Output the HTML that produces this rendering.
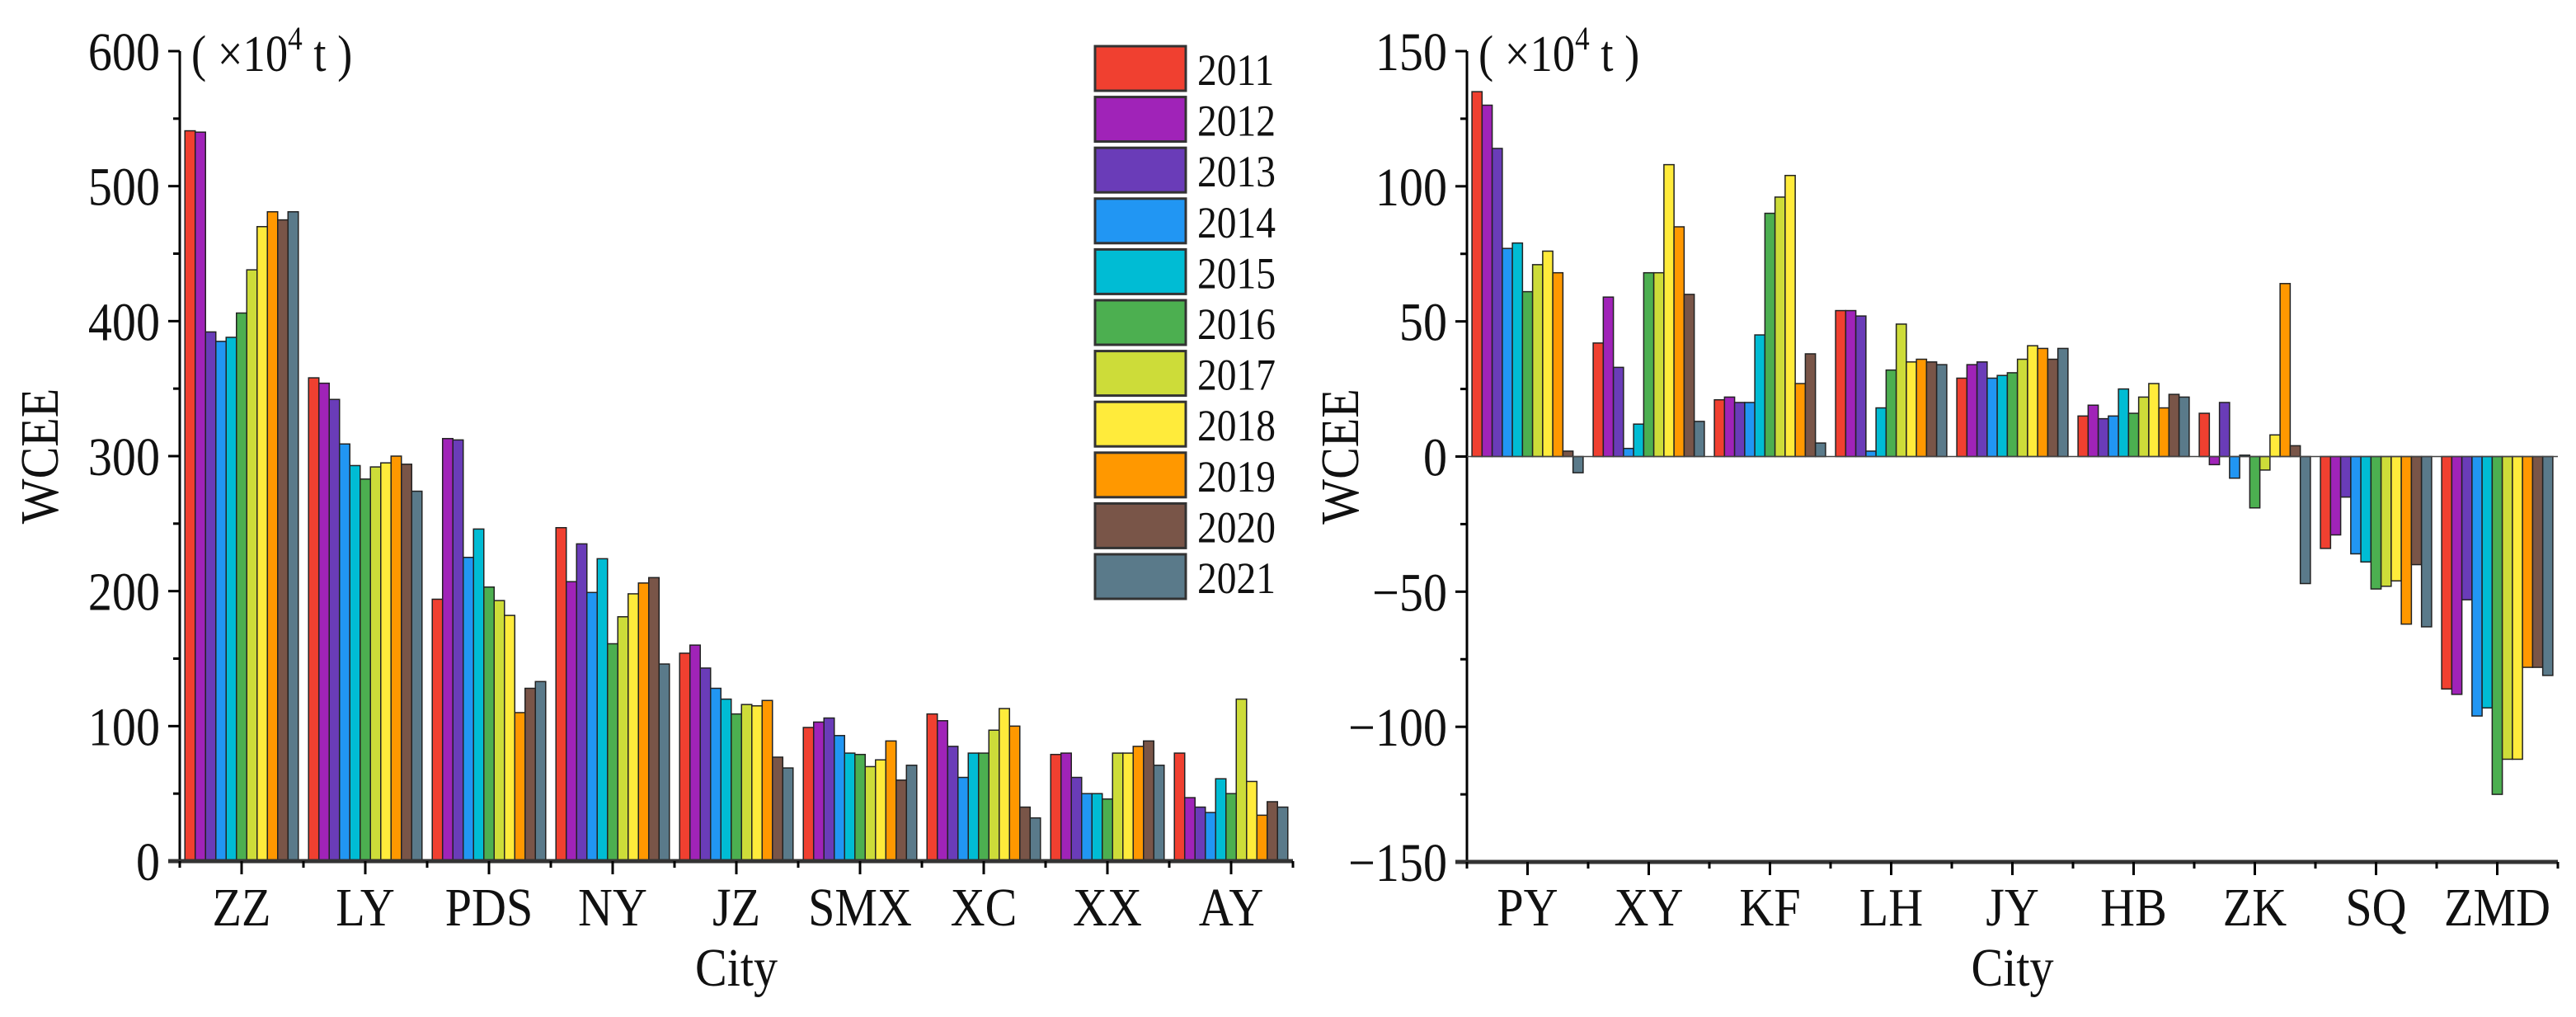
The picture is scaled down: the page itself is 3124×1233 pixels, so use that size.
<!DOCTYPE html>
<html><head><meta charset="utf-8"><style>
html,body{margin:0;padding:0;background:#fff;}
svg{display:block;font-family:"Liberation Serif",serif;}
</style></head><body>
<svg id="chart" width="3124" height="1233" viewBox="0 0 3124 1233" xmlns="http://www.w3.org/2000/svg"></svg>
<script>
const years = ['2011','2012','2013','2014','2015','2016','2017','2018','2019','2020','2021'];
const colors = ['#f04030','#a023b8','#6a3cb8','#2196f3','#00bcd4','#4caf50','#cddc39','#ffeb3b','#ff9800','#795548','#5a7a8a'];
const leftCities = ['ZZ','LY','PDS','NY','JZ','SMX','XC','XX','AY'];
const leftValues = [
 [541,540,392,385,388,406,438,470,481,475,481],
 [358,354,342,309,293,283,292,295,300,294,274],
 [194,313,312,225,246,203,193,182,110,128,133],
 [247,207,235,199,224,161,181,198,206,210,146],
 [154,160,143,128,120,109,116,115,119,77,69],
 [99,103,106,93,80,79,70,75,89,60,71],
 [109,104,85,62,80,80,97,113,100,40,32],
 [79,80,62,50,50,46,80,80,85,89,71],
 [80,47,40,36,61,50,120,59,34,44,40]
];
const leftTicks = [0,100,200,300,400,500,600];
const rightCities = ['PY','XY','KF','LH','JY','HB','ZK','SQ','ZMD'];
const rightValues = [
 [135,130,114,77,79,61,71,76,68,2,-6],
 [42,59,33,3,12,68,68,108,85,60,13],
 [21,22,20,20,45,90,96,104,27,38,5],
 [54,54,52,2,18,32,49,35,36,35,34],
 [29,34,35,29,30,31,36,41,40,36,40],
 [15,19,14,15,25,16,22,27,18,23,22],
 [16,-3,20,-8,0.5,-19,-5,8,64,4,-47],
 [-34,-29,-15,-36,-39,-49,-48,-46,-62,-40,-63],
 [-86,-88,-53,-96,-93,-125,-112,-112,-78,-78,-81]
];
const rightTicks = [-150,-100,-50,0,50,100,150];

const svg = document.getElementById('chart');
const NS = 'http://www.w3.org/2000/svg';
function mk(tag, attrs, parent, text){
  const e = document.createElementNS(NS, tag);
  for (const k in attrs) e.setAttribute(k, attrs[k]);
  if (text !== undefined) e.textContent = text;
  (parent||svg).appendChild(e);
  return e;
}
function txt(x, y, size, anchor, str, parent, extra){
  const a = {x: 0, y: 0, 'font-size': size, 'text-anchor': anchor, fill: '#111', transform: 'translate(' + x + ',' + y + ') scale(0.88,1)' + (extra || '')};
  return mk('text', a, parent, str);
}

function drawPanel(cfg){
  const g = mk('g', {});
  
  
  const y = v => cfg.zeroY - (v - cfg.vmin) / (cfg.vmax - cfg.vmin) * (cfg.zeroY - cfg.topY);
  const catW = (cfg.x1 - cfg.x0) / cfg.cats.length;
  const barW = catW * 0.917 / years.length;
  const zero = y(0);
  cfg.cats.forEach((c, i) => {
    const start = cfg.x0 + i*catW + (catW - barW*years.length)/2;
    cfg.values[i].forEach((v, j) => {
      const yv = y(v);
      const r = mk('rect', {x: start + j*barW, y: Math.min(yv, zero), width: barW, height: Math.max(1, Math.abs(yv - zero)), fill: colors[j], stroke: '#222', 'stroke-width': 1.5}, g);
      
      
    });
  });
  const ya = mk('line', {x1: cfg.x0, y1: cfg.topY, x2: cfg.x0, y2: cfg.zeroY, stroke: '#000', 'stroke-width': 3}, g);
  
  
  cfg.ticks.forEach((t, k) => {
    mk('line', {x1: cfg.x0 - 14, y1: y(t), x2: cfg.x0, y2: y(t), stroke: '#000', 'stroke-width': 3}, g);
    const lb = txt(cfg.x0 - 24, y(t) + 23, 66, 'end', (t < 0 ? '\u2212' + (-t) : String(t)), g);
    
    
    if (k < cfg.ticks.length - 1) {
      const m = (t + cfg.ticks[k+1]) / 2;
      mk('line', {x1: cfg.x0 - 8, y1: y(m), x2: cfg.x0, y2: y(m), stroke: '#000', 'stroke-width': 3}, g);
    }
  });
  const xa = mk('line', {x1: cfg.x0 - 14, y1: cfg.zeroY, x2: cfg.x1, y2: cfg.zeroY, stroke: '#333', 'stroke-width': 5}, g);
  
  
  if (cfg.vmin < 0) {
    mk('line', {x1: cfg.x0, y1: zero, x2: cfg.x1, y2: zero, stroke: '#444', 'stroke-width': 1.5}, g);
  }
  for (let i = 0; i <= cfg.cats.length; i++) {
    const bx = cfg.x0 + i*catW;
    mk('line', {x1: bx, y1: cfg.zeroY, x2: bx, y2: cfg.zeroY + 8, stroke: '#000', 'stroke-width': 3}, g);
  }
  cfg.cats.forEach((c, i) => {
    const cx = cfg.x0 + (i + 0.5)*catW;
    mk('line', {x1: cx, y1: cfg.zeroY, x2: cx, y2: cfg.zeroY + 16, stroke: '#000', 'stroke-width': 3}, g);
    const t = txt(cx, 1122, 66, 'middle', c, g);
    
    
  });
  const xt = txt((cfg.x0 + cfg.x1)/2, 1195, 66, 'middle', 'City', g);
  
  
  const yt = mk('text', {x: 0, y: 0, 'font-size': 66, 'text-anchor': 'middle', fill: '#111', transform: 'translate(' + cfg.ylabX + ',' + ((cfg.topY + cfg.zeroY)/2) + ') rotate(-90) scale(0.88,1)'}, g, 'WCEE');
  
  
  const u = mk('text', {x: 0, y: 0, 'font-size': 62, fill: '#111', transform: 'translate(' + (cfg.x0 + 14) + ',' + (cfg.topY + 24) + ') scale(0.88,1)'}, g);
  
  
  mk('tspan', {}, u, '( \u00d710');
  mk('tspan', {'font-size': 40, dy: -26}, u, '4');
  mk('tspan', {dy: 26}, u, ' t )');
}

drawPanel({name:'left-panel', cats:leftCities, values:leftValues, ticks:leftTicks, vmin:0, vmax:600, x0:218, x1:1568, topY:62, zeroY:1044, ylabX:70});
drawPanel({name:'right-panel', cats:rightCities, values:rightValues, ticks:rightTicks, vmin:-150, vmax:150, x0:1779, x1:3102, topY:62, zeroY:1045, ylabX:1647});

const lg = mk('g', {});


years.forEach((yr, j) => {
  const top = 56 + j*61.6;
  const e = mk('g', {}, lg);
  
  
  mk('rect', {x: 1328, y: top, width: 110, height: 54, fill: colors[j], stroke: '#333', 'stroke-width': 3}, e);
  txt(1452, top + 47, 54, 'start', yr, e);
});
</script>
</body></html>
